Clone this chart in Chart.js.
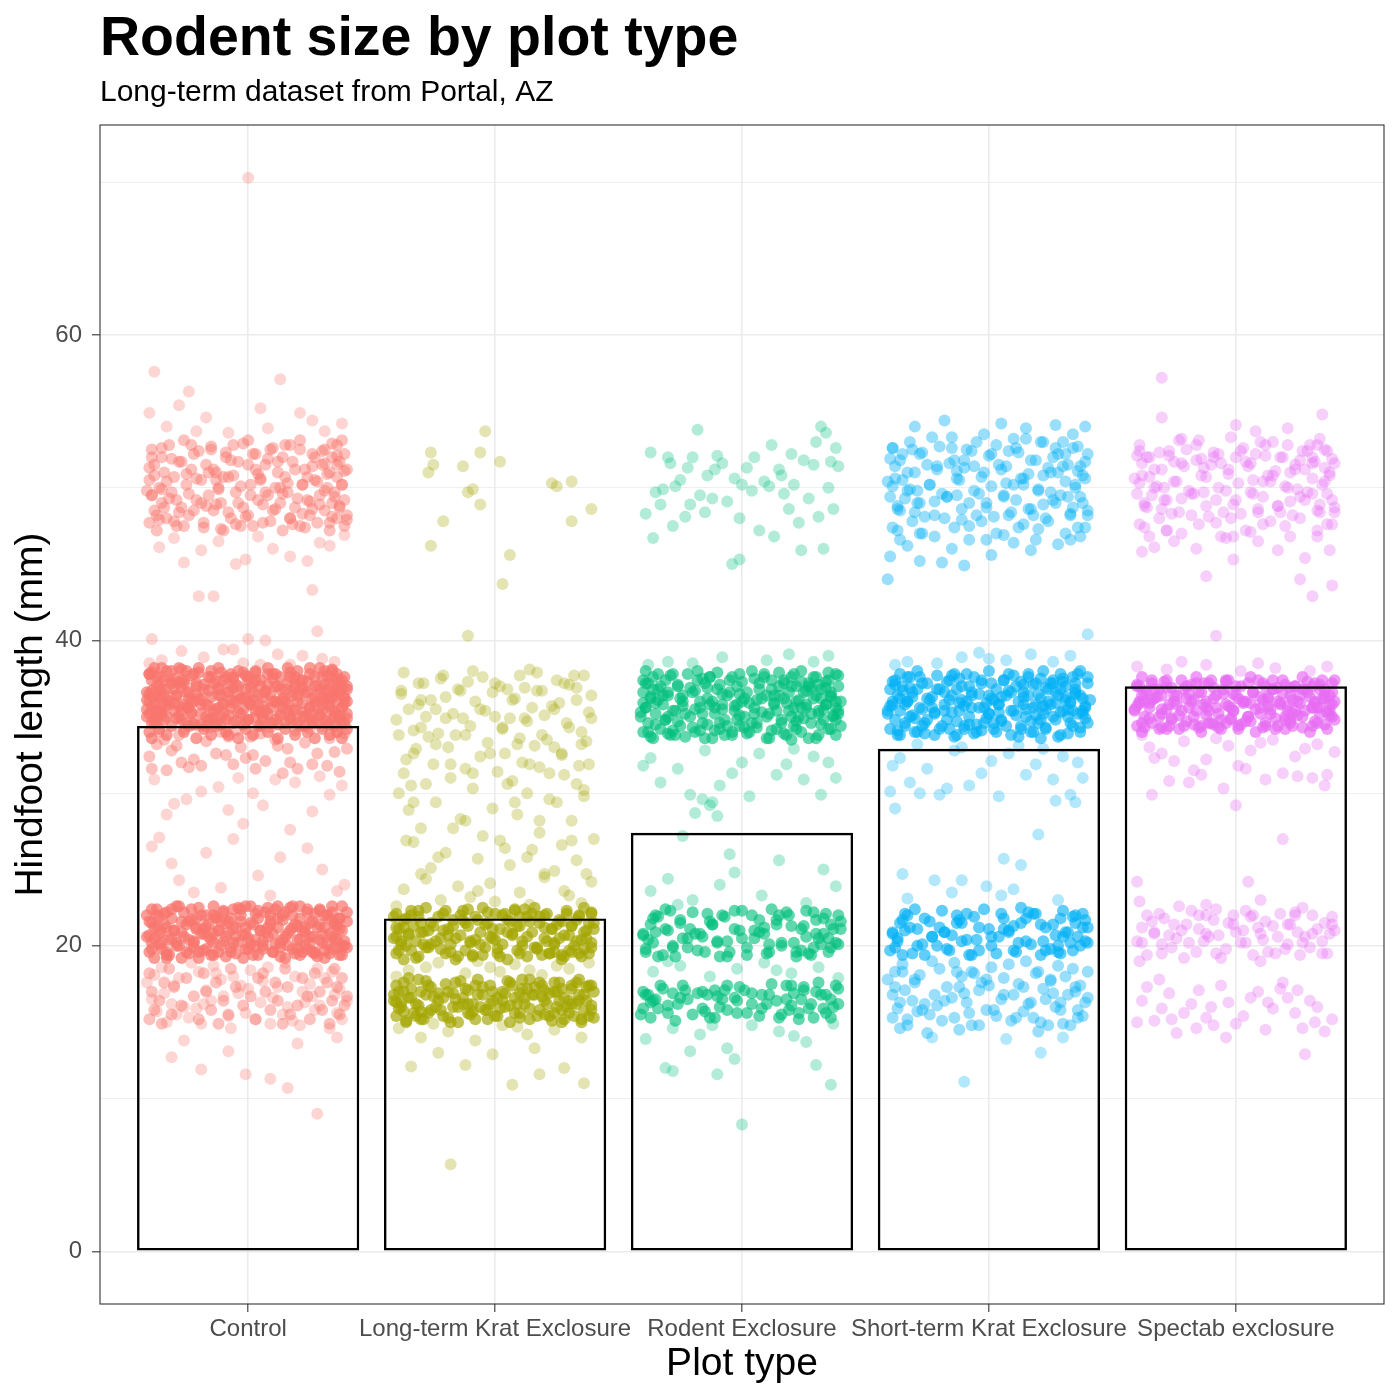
<!DOCTYPE html>
<html><head><meta charset="utf-8">
<script src="https://cdn.jsdelivr.net/npm/chart.js@4.4.1/dist/chart.umd.min.js"></script>
<style>html,body{margin:0;padding:0;background:#fff}canvas{display:block}</style>
</head><body>
<canvas id="c" width="1400" height="1400"></canvas>
<script>
const titleText = 'Rodent size by plot type';
const subtitleText = 'Long-term dataset from Portal, AZ';
const xTitle = 'Plot type';
const yTitle = 'Hindfoot length (mm)';
const categories = ['Control','Long-term Krat Exclosure','Rodent Exclosure','Short-term Krat Exclosure','Spectab exclosure'];
const barMeans = [34.4, 21.8, 27.4, 32.9, 37.0];
const yTicks = [0,10,20,30,40,50,60,70];

// jittered observations: [x offset in hundredths of a category, hindfoot length]
const ctrlDense = [[-40,35.2],[-12,36.8],[25,34.9],[3,37.4],[-33,36.1],[38,35.6],[-5,34.7],[17,37.9],[-26,35.8],[9,36.4],
[31,37.1],[-19,34.5],[-37,37.6],[22,35.3],[0,36.0],[-8,37.2],[35,36.6],[-29,34.9],[13,35.1],[-15,36.3],
[28,34.6],[-2,35.5],[40,37.0],[-23,37.7],[6,34.8],[-35,35.4],[19,36.9],[-10,35.9],[33,34.5],[-31,37.3],
[11,37.8],[-17,35.0],[26,36.2],[-39,36.7],[4,35.7],[37,34.8],[-21,36.5],[15,34.6],[-6,37.5],[30,35.8],
[-27,36.9],[8,35.2],[-14,34.9],[39,36.3],[-34,37.4],[20,36.0],[-1,34.7],[-24,35.6],[34,37.6],[-11,36.4],
[24,37.3],[-38,34.9],[2,36.6],[16,35.4],[-30,35.9],[36,35.1],[-7,36.1],[-20,37.9],[12,34.5],[29,36.8],
[-36,36.3],[5,37.0],[-16,35.7],[23,35.0],[-41,35.5],[32,37.7],[-4,35.3],[18,36.4],[-28,37.2],[10,37.5],
[-13,34.6],[27,35.9],[-33,35.0],[1,35.8],[38,36.9],[-25,36.6],[14,36.1],[-9,34.8],[21,37.4],[-32,36.0],
[7,36.7],[35,35.3],[-18,37.1],[-3,36.2],[26,34.7],[-22,34.5],[31,36.5],[-39,37.9],[16,37.2],[-12,35.6],
[3,35.0],[37,37.3],[-27,35.4],[9,34.6],[-6,36.9],[24,36.6],[-35,36.8],[19,35.5],[-15,37.6],[33,35.7],
[-1,37.7],[12,35.9],[-24,36.2],[40,34.9],[-10,35.2],[28,37.0],[-37,34.7],[6,36.3],[22,36.9],[-19,35.8],
[-30,37.5],[15,36.0],[34,36.2],[-8,35.1],[-40,36.5],[0,34.8],[30,35.4],[-16,36.7],[11,37.0],[-34,35.7],
[20,34.6],[-4,36.4],[36,37.5],[-23,35.2],[8,37.8],[-13,37.3],[25,35.6],[-38,35.9],[2,36.1],[17,35.0],
[39,35.9],[-29,36.4],[-11,34.5],[13,36.8],[32,34.7],[-21,37.2],[5,35.3],[-36,37.0],[27,36.3],[-2,37.9],
[-37,35.0],[-22,36.0],[-9,37.6],[7,35.4],[21,36.7],[34,38.1],[-31,38.0],[-17,34.4],[1,36.9],[16,38.2],
[29,35.1],[40,36.0],[-40,37.8],[-25,34.6],[-4,38.0],[10,36.0],[25,38.2],[38,34.6],[-34,36.4],[-13,35.5],
[4,34.4],[19,37.6],[32,36.2],[-28,35.7],[-6,35.9],[13,37.6],[36,36.9],[-19,36.1],[-1,36.3],[23,34.4],
[-39,34.6],[-26,37.4],[-11,37.9],[8,37.1],[27,37.6],[-35,38.2],[-15,34.9],[3,37.9],[18,34.8],[31,38.0],
[-23,35.3],[-8,36.6],[14,35.6],[35,35.0],[-30,36.8],[-2,34.5],[22,35.9],[39,37.6],[-20,38.2],[11,34.8],
[-36,35.5],[-12,36.9],[6,35.7],[26,35.3],[-27,38.1],[-5,37.1],[17,36.6],[33,36.3],[-41,36.1],[0,37.4],
[-38,20.5],[-11,21.6],[24,19.8],[4,22.3],[-32,19.4],[37,21.1],[-6,20.2],[18,22.0],[-25,21.4],[10,19.6],
[30,20.8],[-20,22.5],[-36,21.9],[21,20.4],[-1,21.2],[-9,19.3],[34,22.2],[-28,20.0],[14,21.7],[-16,20.6],
[27,19.5],[-3,22.4],[39,20.3],[-22,19.9],[7,20.9],[-34,22.1],[20,21.3],[-13,21.9],[32,20.1],[-30,21.0],
[12,22.6],[-18,19.7],[25,21.5],[-40,20.7],[2,19.4],[36,19.9],[-24,20.4],[16,20.0],[-7,21.8],[29,22.3],
[-27,19.2],[9,21.4],[-14,22.0],[40,21.6],[-35,20.9],[22,19.6],[0,20.5],[-21,21.1],[33,21.8],[-10,20.3],
[26,20.6],[-39,19.8],[5,21.0],[15,22.2],[-31,22.4],[35,20.5],[-5,19.5],[-19,20.8],[11,20.1],[28,19.3],
[-37,21.3],[3,22.1],[-15,19.4],[23,21.2],[-41,22.0],[31,19.7],[-2,20.7],[19,19.5],[-29,20.2],[8,22.5],
[-12,21.0],[38,20.0],[-23,21.7],[13,19.9],[-8,20.9],[24,22.4],[-33,19.6],[1,21.5],[34,20.6],[-26,22.2],
[17,21.0],[-4,22.5],[29,21.4],[-17,21.3],[6,20.3],[-36,20.1],[21,22.6],[-9,21.5],[38,19.4],[-20,19.6],
[10,20.8],[-27,21.6],[32,22.0],[-1,19.8],[14,20.4],[-33,21.2],[26,19.6],[-14,20.2],[36,21.3],[-6,21.1],
[-35,20.2],[-21,21.8],[-7,19.9],[9,22.0],[23,20.9],[37,21.8],[-29,22.6],[-14,20.8],[3,20.0],[18,21.2],
[31,21.2],[-39,21.5],[-24,19.5],[-3,21.6],[12,21.8],[27,22.1],[40,19.9],[-31,20.5],[-10,22.3],[6,19.8],
[20,19.8],[35,21.5],[-18,21.1],[-1,22.6],[15,20.6],[33,19.5],[-27,20.9],[-12,19.6],[1,20.1],[25,20.2],
[-37,22.4],[-17,22.0],[8,21.2],[29,20.4],[-5,20.6],[17,22.5],[38,22.6],[-22,20.3],[-33,19.2],[13,19.3]];
const ctrlMid = [[-39,49.5],[-14,51.2],[22,48.3],[5,50.6],[-30,47.8],[36,52.1],[-4,49.0],[15,52.8],[-25,50.9],[11,48.6],
[31,49.8],[-18,47.4],[-35,52.6],[26,51.4],[-1,48.1],[-9,52.3],[38,50.2],[-27,51.7],[18,47.6],[-12,49.9],
[29,48.9],[-6,50.8],[40,47.9],[-22,48.5],[8,51.9],[-33,50.4],[20,49.3],[-16,51.0],[34,52.9],[-37,48.2],
[13,50.0],[-20,52.4],[24,50.7],[-40,51.3],[2,47.5],[37,48.8],[-24,49.6],[16,50.3],[-8,48.4],[31,51.6],
[-29,49.2],[7,49.7],[-11,47.3],[39,51.1],[-34,48.7],[21,52.5],[0,51.5],[-23,52.8],[33,47.7],[-13,50.5],
[25,49.1],[-38,50.8],[3,52.2],[17,48.0],[-31,51.9],[35,49.4],[-5,47.6],[-19,49.0],[12,51.7],[28,50.4],
[-36,47.9],[6,48.9],[-15,52.7],[23,47.4],[-41,49.8],[32,50.9],[-3,50.1],[19,51.2],[-28,48.4],[10,52.6],
[-10,50.7],[27,52.0],[-32,49.3],[1,49.5],[36,51.5],[-26,47.5],[14,49.6],[-7,51.8],[22,50.2],[-21,50.6],
[9,47.8],[34,48.1],[-17,48.8],[-2,52.9],[26,48.6],[-39,52.0],[30,52.4],[-13,48.9],[4,50.9],[-35,49.9],
[-37,33.2],[-9,32.5],[19,34.1],[3,31.6],[-28,33.8],[35,32.7],[-15,34.3],[26,31.9],[-22,32.2],[11,33.5],
[39,33.9],[-3,33.0],[-33,31.5],[16,32.9],[-11,34.0],[30,34.4],[-40,32.4],[7,32.1],[23,33.3],[-19,31.8],
[-26,34.2],[1,33.7],[37,31.4],[-6,31.9],[14,31.3],[-31,32.8],[28,32.6],[-17,33.4],[9,34.3],[-36,34.0],
[33,33.6],[-1,32.3],[-24,31.7],[20,31.6],[-13,32.6],[40,32.9],[5,33.9],[-29,33.1],[25,34.2],[-8,33.7],
[17,32.0],[-39,31.6],[-20,34.4],[32,31.8],[2,32.5],[-34,33.5],[12,33.1],[-5,34.1],[36,34.0],[-27,32.0]];
const ctrlSparse = [[0,70.3],[-38,57.6],[-24,56.3],[13,57.1],[5,55.2],[-28,55.4],[-40,54.9],[-17,54.6],[21,54.9],[31,53.7],[-33,54.0],[8,53.9],[38,54.2],[-8,53.6],[26,54.4],[-21,53.7],
[-36,46.1],[-19,45.9],[-1,45.3],[17,45.5],[33,46.2],[-30,46.7],[10,46.0],[24,45.2],[-12,46.5],[39,46.9],[-26,45.1],[4,46.8],[29,46.4],[-5,45.0],
[-20,42.9],[-14,42.9],[26,43.3],[28,40.6],[-39,40.1],[0,40.1],[7,40.0],[-6,39.4],
[-35,38.7],[-18,38.9],[12,39.1],[-2,38.5],[22,39.0],[35,38.6],[-27,39.3],[5,38.4],[-10,39.4],[30,38.8],[-40,38.5],[17,38.4],
[-38,30.9],[-25,29.6],[-12,30.4],[6,29.2],[19,30.7],[33,29.9],[-33,28.6],[-4,31.0],[26,28.8],[-19,30.1],[11,30.9],[38,30.5],[-30,29.3],[2,30.0],[-8,28.9],[29,31.1],
[-39,26.5],[-36,27.1],[-31,25.4],[-17,26.1],[-6,27.0],[4,24.6],[13,25.8],[24,26.4],[36,23.6],[-11,23.8],[-28,24.3],[-22,23.5],[9,23.3],[30,25.0],[-2,28.0],[17,27.6],[39,24.0],
[-39,16.5],[-30,17.4],[-21,15.9],[-13,18.2],[-4,16.9],[6,17.7],[14,15.5],[23,16.3],[31,17.9],[38,15.2],
[-35,18.6],[-26,16.0],[-17,17.1],[-8,15.4],[1,18.4],[10,16.6],[19,18.0],[27,15.8],[35,16.8],[-41,17.6],
[-33,15.0],[-23,18.9],[-15,16.4],[-6,18.0],[3,15.2],[12,17.3],[21,14.8],[29,16.1],[37,17.2],[-37,15.7],
[-28,17.9],[-19,14.9],[-10,16.7],[-1,15.6],[8,18.6],[16,16.0],[25,17.5],[33,14.6],[40,16.4],[-31,16.2],
[-24,15.3],[-11,17.8],[-3,17.4],[18,15.1],[28,18.5],[-38,18.1],[-18,16.2],[5,16.3],[22,17.0],[34,18.3],
[-29,15.5],[-7,14.6],[15,18.9],[36,15.6],[-14,18.7],[9,14.9],[-34,16.9],[26,16.7],[-20,18.3],[0,17.2],
[-31,12.7],[-19,11.9],[-1,11.6],[9,11.3],[16,10.7],[28,9.0],[-8,13.1],[-26,13.8],[20,13.6],[36,14.0]];
// row form: [hindfoot length, x offsets (hundredths) of the animals measured at it]
const ctrlCoreRows = [[33.6,-39,-21,-4,12,27,38],[33.8,-33,-15,2,19,33,-8],[34.0,-40,-26,-9,8,24,36],[34.2,-36,-18,-1,15,30,40],
[34.4,-31,-13,5,21,35,-24],[34.6,-38,-22,-6,10,26,39],[34.8,-34,-16,0,17,31,-27],[35.0,-41,-28,-11,6,22,37],
[35.2,-35,-19,-3,13,29,40],[35.4,-30,-14,3,18,34,-37],[35.6,-39,-25,-7,9,25,38],[35.8,-32,-17,1,16,32,-10],
[36.0,-40,-23,-5,11,28,36],[36.2,-36,-20,-2,14,30,39],[36.4,-29,-12,4,20,35,-38],[36.6,-41,-24,-8,7,23,37],
[36.8,-33,-18,-1,15,31,40],[37.0,-37,-21,-4,12,27,34],[37.2,-31,-14,2,19,33,-26],[37.4,-39,-27,-10,5,22,38],
[37.6,-35,-16,0,17,30,-6],[37.8,-40,-22,-7,10,25,36],[38.0,-33,-15,3,20,34,-25],[38.2,-38,-12,8,29,-28],
[19.2,-38,-20,-2,15,31],[19.4,-33,-14,4,21,37],[19.6,-40,-25,-7,10,27],[19.8,-35,-17,0,18,34],
[20.0,-29,-11,6,23,39],[20.2,-39,-22,-4,13,30],[20.4,-32,-15,3,20,36],[20.6,-41,-26,-9,8,25],
[20.8,-36,-18,-1,16,33],[21.0,-30,-12,5,22,38],[21.2,-38,-21,-5,12,28],[21.4,-34,-16,2,19,35],
[21.6,-40,-24,-8,9,26],[21.8,-31,-13,4,21,37],[22.0,-37,-19,-3,14,31],[22.2,-33,-10,7,24,40],
[22.4,-39,-23,-6,11,29],[22.6,-28,-14,1,18,34]];
const ctrlMidRows = [[47.2,-37,-10,14,33],[47.5,-29,-3,21,39],[47.7,-40,-18,6,28],[48.0,-33,-7,17,36],[48.2,-24,0,25,40],
[48.5,-38,-14,10,31],[48.7,-27,-2,19,37],[49.0,-35,-11,13,34],[49.2,-21,4,24,39],[49.5,-39,-16,8,29],
[49.7,-31,-5,16,35],[50.0,-36,-12,11,32],[50.2,-25,1,22,38],[50.5,-40,-19,5,27],[50.7,-30,-8,15,36],
[51.0,-34,-13,12,33],[51.2,-23,3,23,40],[51.5,-38,-17,7,30],[51.7,-28,-4,18,37],[52.0,-35,-9,14,34],
[52.2,-22,2,26,39],[52.5,-39,-15,9,31],[52.8,-32,-6,17,36],[53.1,-26,0,21,38],
[14.9,-35,-12,14,33],[15.2,-40,-20,3,25],[15.5,-31,-8,17,37],[15.8,-38,-15,9,30],[16.1,-27,-2,20,39],
[16.4,-36,-10,12,34],[16.7,-22,1,24,40],[17.0,-39,-17,7,29],[17.3,-30,-5,16,36],[17.6,-34,-13,11,32],
[17.9,-25,4,22,38],[18.2,-40,-18,6,27],[18.5,-32,-7,15,35]];

const ltkDense = [[-38,20.3],[-12,21.5],[24,19.6],[4,22.1],[-32,19.2],[37,21.0],[-6,20.1],[18,21.9],[-25,21.3],[10,19.5],
[30,20.7],[-20,22.3],[-36,21.8],[21,20.3],[-1,21.1],[-9,19.4],[34,22.0],[-28,19.9],[14,21.6],[-16,20.5],
[27,19.4],[-3,22.2],[39,20.2],[-22,19.8],[7,20.8],[-34,22.0],[20,21.2],[-13,21.7],[32,20.0],[-30,20.9],
[12,22.4],[-18,19.6],[25,21.4],[-40,20.6],[2,19.3],[36,19.8],[-24,20.3],[16,19.9],[-7,21.7],[29,22.1],
[-27,21.0],[9,21.3],[-14,22.0],[40,21.5],[-35,20.8],[22,19.5],[0,20.4],[-21,21.0],[33,21.7],[-10,20.2],
[26,20.5],[-39,19.7],[5,20.9],[15,22.1],[-31,22.3],[35,20.4],[-5,19.4],[-19,20.7],[11,20.0],[28,19.3],
[-37,21.2],[3,22.0],[-15,19.3],[23,21.1],[-41,21.9],[31,19.6],[-2,20.6],[19,19.4],[-29,20.1],[8,22.4],
[-36,20.0],[-23,21.9],[-8,20.4],[6,21.6],[20,22.0],[34,19.5],[-30,21.5],[-17,21.3],[1,19.8],[13,20.6],
[27,21.6],[39,22.2],[-40,21.2],[-11,22.4],[17,19.8],[31,21.3],[-26,20.1],[-4,21.4],[10,21.9],[24,20.2],
[-38,16.3],[-11,17.1],[24,15.6],[4,16.9],[-32,15.4],[37,17.3],[-6,16.0],[18,17.6],[-25,16.7],[10,15.3],
[30,16.4],[-20,17.5],[-36,15.1],[21,16.2],[-1,17.0],[-9,15.7],[34,16.8],[-28,17.7],[14,15.9],[-16,16.5],
[27,17.2],[-3,15.2],[39,16.1],[-22,15.8],[7,17.4],[-34,16.6],[20,15.5],[-13,16.2],[32,15.4],[-30,17.0],
[12,16.6],[-18,15.0],[25,17.0],[-40,17.4],[2,15.9],[36,15.7],[-24,16.0],[16,17.3],[-7,16.8],[29,16.0],
[-27,15.6],[9,16.2],[-14,17.7],[40,15.3],[-35,17.9],[22,16.9],[0,15.4],[-21,16.6],[33,17.6],[-10,15.5],
[26,16.4],[-39,15.9],[5,17.7],[15,16.8],[-31,16.1],[35,15.0],[-5,17.3],[-19,15.3],[11,17.8],[28,15.2],
[-37,17.0],[3,16.4],[-15,16.0],[23,15.1],[-41,16.8],[31,17.4],[-2,16.2],[19,16.7],[-29,15.2],[8,15.6],
[-37,15.7],[-23,16.9],[-8,17.4],[6,16.1],[20,17.1],[34,16.4],[-30,15.7],[-17,16.9],[1,16.6],[13,17.2],
[27,15.8],[39,17.4],[-40,16.3],[-11,16.2],[17,15.4],[31,16.2],[-26,17.3],[-4,15.8],[10,16.9],[24,17.6]];
const ltkSparse = [[-26,52.3],[-25,51.5],[-13,51.4],[-6,52.3],[-4,53.7],[2,51.7],[-21,47.8],[-26,46.2],[-9,49.9],[-6,48.9],[6,45.6],[3,43.7],[23,50.3],[25,50.1],[31,50.4],[31,47.8],[39,48.6],[-27,51.0],[-11,49.7],[-11,40.3],
[-38,36.5],[-33,34.1],[-29,37.2],[-24,35.5],[-19,33.0],[-15,36.8],[-10,34.4],[-5,37.6],[0,35.0],[4,32.6],
[8,36.2],[13,34.7],[17,37.9],[21,33.5],[26,35.9],[30,37.1],[35,34.0],[39,36.4],[-36,32.2],[-31,35.8],
[-27,33.7],[-22,37.5],[-17,35.2],[-12,31.6],[-8,36.0],[-3,33.3],[2,37.0],[6,34.9],[11,32.0],[15,35.6],
[19,36.7],[24,33.0],[28,31.2],[33,36.9],[37,33.4],[-40,34.8],[-34,30.5],[-30,36.1],[-25,31.9],[-20,36.3],
[-16,33.8],[-11,37.3],[-6,32.4],[-1,36.6],[3,34.2],[7,30.8],[12,36.9],[16,33.1],[20,35.1],[25,37.4],
[29,34.6],[34,31.8],[38,35.3],[-37,37.9],[-32,32.9],[-28,35.0],[-23,33.9],[-18,31.0],[-13,34.9],[-9,38.0],
[-4,35.4],[1,31.4],[5,36.8],[10,33.6],[14,38.1],[18,31.7],[23,35.7],[27,32.5],[32,37.7],[36,30.2],
[-39,30.0],[-35,28.9],[-30,27.7],[-24,29.4],[-20,26.1],[-14,28.3],[-9,30.3],[-5,27.2],[-1,29.0],[4,26.4],
[9,28.6],[13,30.0],[18,27.4],[22,29.6],[27,26.6],[31,28.2],[36,29.8],[40,27.0],[-33,26.8],[-26,25.1],
[-17,27.7],[-7,25.7],[6,25.3],[15,26.3],[24,24.9],[33,25.6],[-37,23.7],[-28,24.4],[-15,23.9],[-2,24.1],
[10,23.5],[20,24.5],[30,23.3],[39,24.2],[-22,23.0],[0,22.9],[-40,22.6],[35,22.8],[-10,23.2],[14,22.7],
[-35,18.4],[-23,18.9],[-12,18.2],[-2,18.6],[8,18.8],[19,18.1],[30,18.5],[38,18.9],[-28,18.6],[14,18.4],[-7,19.0],[25,18.7],[-40,18.0],[2,18.3],
[-39,14.6],[-30,14.0],[-19,14.4],[-8,13.8],[3,14.8],[13,14.2],[24,14.5],[35,14.0],[-23,13.0],[-12,12.2],[-1,12.9],[16,13.3],[28,12.0],[-25,14.9],[9,14.7],
[-18,5.7],[7,10.9],[36,11.0],[18,11.6],[-34,12.1]];
const ltkDenseRows = [[19.1,-37,-16,5,27],[19.3,-31,-9,13,35],[19.5,-40,-20,1,22,38],[19.7,-34,-12,9,30],[19.9,-27,-4,17,39],
[20.1,-38,-18,3,24],[20.3,-32,-10,11,33],[20.5,-41,-22,-1,20,37],[20.7,-35,-14,7,28],[20.9,-29,-6,15,36],
[21.1,-39,-19,2,23,40],[21.3,-33,-11,10,31],[21.5,-26,-3,18,38],[21.7,-37,-17,5,26],[21.9,-31,-8,13,34],
[22.1,-40,-21,0,21,39],[22.3,-34,-13,8,29],[22.5,-28,-5,16,36],
[15.0,-36,-15,6,27],[15.2,-30,-8,14,35],[15.4,-40,-21,1,22,38],[15.6,-33,-11,10,30],[15.8,-26,-3,18,39],
[16.0,-38,-17,4,25],[16.2,-32,-9,12,33],[16.4,-41,-23,-1,20,37],[16.6,-35,-13,8,28],[16.8,-28,-5,16,36],
[17.0,-39,-19,3,24,40],[17.2,-34,-12,11,31],[17.4,-27,-2,19,38],[17.6,-37,-16,6,26],[17.8,-31,-7,14,34]];
const ltkSparseRows = [[30.6,-28,5,33],[31.3,-37,-9,22],[31.9,-18,14,38],[32.6,-33,-2,27],[33.2,-24,9,35],[33.8,-39,-12,19],
[34.3,-30,3,30],[34.9,-20,12,39],[35.5,-35,-6,24],[36.1,-26,7,33],[36.7,-38,-14,17],[37.2,-31,0,28],
[37.7,-21,10,36],[29.4,-33,8,25],[28.2,-12,18],[26.9,-36,2,31],[25.8,-23,13],[24.7,-30,20,37],[23.6,-7,28]];

const rodDense = [[-39,35.6],[-14,36.9],[22,34.2],[5,37.5],[-30,35.0],[36,36.3],[-4,34.0],[15,37.9],[-25,36.2],[11,33.6],
[31,35.4],[-18,37.4],[-35,34.5],[26,36.7],[-1,35.1],[-9,37.1],[38,34.8],[-27,33.8],[18,35.9],[-12,36.0],
[29,37.6],[-6,34.4],[40,36.0],[-22,37.8],[8,35.3],[-33,37.0],[20,33.5],[-16,35.2],[34,36.9],[-37,33.7],
[13,36.4],[-20,34.3],[24,37.3],[-40,37.4],[2,33.9],[37,35.1],[-24,35.7],[16,34.6],[-8,36.5],[31,33.8],
[-29,37.7],[7,36.8],[-11,34.1],[39,37.7],[-34,36.1],[21,35.6],[0,37.3],[-23,33.7],[33,35.5],[-13,35.8],
[25,34.9],[-38,34.0],[3,35.9],[17,37.2],[-31,34.8],[35,37.9],[-5,36.6],[-19,35.5],[12,37.4],[28,35.2],
[-36,36.8],[6,34.3],[-15,33.6],[23,36.1],[-41,35.3],[32,34.5],[-3,35.7],[19,36.6],[-28,35.4],[10,35.0],
[-10,37.9],[27,33.6],[-32,36.4],[1,36.2],[36,34.2],[-26,34.7],[14,35.4],[-7,33.8],[22,37.0],[-21,36.9],
[9,37.8],[34,37.3],[-17,36.0],[-2,34.8],[26,35.8],[-39,37.2],[30,36.4],[-13,37.6],[4,34.6],[-35,35.9],
[38,35.6],[-24,36.4],[17,33.9],[-8,35.5],[12,34.1],[-30,33.9],[28,36.9],[-1,36.5],[20,37.6],[-17,34.1],
[-37,36.3],[-23,35.2],[-9,34.6],[6,36.1],[20,35.0],[34,35.8],[-30,36.6],[-16,37.5],[1,34.3],[13,35.9],
[27,37.0],[39,35.2],[-40,35.9],[-11,35.6],[17,36.2],[31,37.1],[-26,37.1],[-4,37.6],[10,36.4],[24,35.6],
[-34,37.8],[-19,36.7],[-2,35.8],[15,37.0],[36,36.6],[-28,34.1],[5,35.2],[22,34.7],[-14,34.5],[32,36.2],
[-38,20.4],[-12,21.4],[24,19.7],[4,22.0],[-32,19.4],[37,21.1],[-6,20.3],[18,22.2],[-25,21.5],[10,19.5],
[30,20.8],[-20,22.2],[-36,21.8],[21,20.2],[-1,21.0],[-9,19.3],[34,22.1],[-28,20.0],[14,21.7],[-16,20.6],
[27,19.5],[-3,22.3],[39,20.1],[-22,19.9],[7,20.9],[-34,21.9],[20,21.3],[-13,21.6],[32,20.1],[-30,21.0],
[12,22.4],[-18,19.7],[25,21.3],[-40,20.7],[2,19.4],[36,19.9],[-24,20.5],[16,20.0],[-7,21.9],[29,22.2],
[-27,19.3],[9,21.2],[-14,22.1],[40,21.6],[-35,20.9],[22,19.6],[0,20.5],[-21,21.1],[33,21.8],[-10,20.3],
[26,20.6],[-39,19.8],[5,21.0],[15,22.0],[-31,22.4],[35,20.5],[-5,19.6],[-19,20.8],[11,20.1],[28,19.4],
[-38,16.8],[-11,17.1],[24,16.5],[4,16.9],[-32,17.2],[37,16.0],[-6,15.8],[18,17.4],[-25,16.6],[10,16.2],
[30,17.0],[-20,15.5],[-36,16.4],[21,16.9],[-1,17.3],[-9,16.0],[34,15.6],[-28,16.9],[14,16.4],[-16,17.0],
[27,15.9],[-3,16.6],[39,17.2],[-22,16.5],[7,15.4],[-34,15.9],[20,16.1],[-13,15.3],[32,16.8],[-30,16.1],
[12,17.5],[-18,16.9],[25,17.3],[-40,17.0],[2,15.6],[36,16.5],[-24,17.4],[16,15.5],[-7,17.1],[29,15.3],
[-37,16.3],[8,16.8],[-15,15.7],[23,15.2],[-41,15.5],[31,17.6],[-2,16.4],[19,15.8],[-27,15.1],[-10,16.7]];
const rodSparse = [[-37,52.3],[-36,46.7],[-18,53.8],[12,52.8],[30,53.0],[32,54.0],[34,53.6],[38,52.6],[-35,49.7],[-32,49.9],
[-29,51.6],[-27,50.1],[-25,50.5],[-22,51.3],[-21,48.9],[-20,52.0],[-17,49.5],[-15,48.4],[-12,49.3],[-10,52.1],
[-8,51.6],[-6,49.1],[-3,50.6],[-1,48.0],[2,51.3],[4,49.8],[7,47.2],[9,50.4],[11,50.1],[13,46.8],
[15,51.2],[17,49.6],[19,48.6],[21,50.2],[23,47.7],[25,51.8],[27,49.3],[29,51.5],[31,48.1],[33,46.0],
[35,50.0],[37,48.6],[39,51.4],[-39,48.3],[-33,48.9],[-28,47.5],[-23,48.1],[-14,50.8],[-4,45.0],[-1,45.3],
[5,52.0],[16,50.8],[24,45.9],[36,51.7],[-11,51.2],[0,50.2],[20,52.2],[-30,52.0],
[-30,38.6],[-8,38.9],[10,38.7],[29,38.6],[35,39.0],[-38,38.4],[19,39.1],[-20,38.5],
[-37,32.3],[-26,31.6],[-15,32.8],[-4,31.3],[7,32.6],[18,31.9],[29,32.4],[38,31.0],[-33,30.7],[-21,29.9],
[-9,30.5],[3,29.8],[14,31.2],[25,30.9],[35,32.0],[-40,31.8],[-12,29.4],[21,32.9],[0,32.0],[32,29.9],
[-16,29.6],[-13,29.2],[-10,28.5],[-19,28.7],[-24,27.2],
[-5,26.0],[15,25.6],[-3,24.8],[-9,24.0],[-37,23.6],[-30,24.4],[-20,23.0],[8,23.3],[26,22.8],[38,23.9],[-26,22.7],[33,25.0],
[-36,18.3],[-25,18.7],[-13,18.0],[-2,18.5],[9,18.9],[20,18.2],[31,18.6],[39,17.9],[-30,19.0],[14,18.4],
[-39,13.9],[-28,14.6],[-17,14.2],[-6,13.3],[4,14.8],[15,14.4],[26,13.7],[37,14.9],[-31,12.0],[-21,13.1],[-3,12.6],[21,14.1],[30,12.2],[-12,14.8],
[0,8.3],[36,10.9],[-28,11.8],[-10,11.6]];
const rodDenseRows = [[33.6,-36,-12,10,30],[33.8,-29,-4,18,38],[34.0,-40,-19,3,24],[34.2,-33,-9,14,35],[34.4,-25,-1,21,40],
[34.6,-38,-16,6,28],[34.8,-31,-7,16,33],[35.0,-41,-21,1,23,37],[35.2,-35,-11,11,31],[35.4,-27,-3,19,39],
[35.6,-39,-17,5,26],[35.8,-32,-8,13,34],[36.0,-24,0,22,38],[36.2,-37,-14,8,29],[36.4,-30,-6,15,36],
[36.6,-40,-20,2,25],[36.8,-34,-10,12,32],[37.0,-26,-2,20,39],[37.2,-38,-15,7,27],[37.4,-31,-5,17,35],
[37.6,-36,-13,9,30],[37.8,-28,-1,21,38],[38.0,-39,-18,4,24],
[19.3,-34,-6,22],[19.6,-39,-15,11,35],[19.9,-28,2,29],[20.2,-36,-10,16,38],[20.5,-22,5,31],
[20.8,-40,-17,9,33],[21.1,-31,-3,24,40],[21.4,-37,-12,14,36],[21.7,-25,7,30],[22.0,-35,-8,19,39],[22.3,-29,0,26],
[15.3,-37,-11,15,36],[15.6,-30,-2,23],[15.9,-40,-16,8,33],[16.2,-26,4,28,39],[16.5,-35,-8,18],
[16.8,-39,-14,11,34],[17.1,-23,1,25],[17.4,-33,-6,20,38]];

const stDense = [[-40,35.7],[-13,36.8],[23,34.3],[6,37.4],[-31,35.1],[37,36.4],[-3,34.1],[16,37.8],[-24,36.1],[12,33.7],
[32,35.5],[-17,37.3],[-34,34.6],[27,36.6],[0,35.2],[-8,37.0],[39,34.9],[-26,33.9],[19,35.8],[-11,36.1],
[30,37.5],[-5,34.5],[41,36.1],[-21,37.7],[9,35.4],[-32,36.9],[21,33.6],[-15,35.3],[35,36.8],[-36,33.8],
[14,36.3],[-19,34.4],[25,37.2],[-39,37.3],[3,34.0],[38,35.2],[-23,35.6],[17,34.7],[-7,36.4],[32,33.9],
[-28,37.6],[8,36.7],[-10,34.2],[40,37.6],[-33,36.0],[22,35.7],[1,37.2],[-22,33.8],[34,35.4],[-12,35.9],
[26,35.0],[-37,34.1],[4,35.8],[18,37.1],[-30,34.9],[36,37.8],[-4,36.5],[-18,35.4],[13,37.3],[29,35.3],
[-35,36.7],[7,34.4],[-14,33.7],[24,36.0],[-41,35.4],[33,34.6],[-2,35.6],[20,36.5],[-27,35.5],[11,35.1],
[-9,37.8],[28,33.7],[-31,36.3],[2,36.1],[37,34.3],[-25,34.8],[15,35.5],[-6,33.9],[23,36.9],[-20,36.8],
[10,37.7],[35,37.2],[-16,36.1],[-1,34.9],[27,35.9],[-38,37.1],[31,36.3],[-12,37.5],[5,34.7],[-34,35.8],
[39,35.7],[-23,36.3],[18,34.0],[-7,35.6],[13,34.2],[-29,34.0],[29,36.8],[0,36.4],[21,37.5],[-16,34.2],
[-36,36.2],[-22,35.3],[-8,34.5],[5,36.3],[19,35.1],[33,35.9],[-29,36.8],[-15,37.7],[2,34.6],[14,35.8],
[26,37.2],[38,35.4],[-39,36.0],[-10,35.7],[16,36.4],[30,37.3],[-25,37.2],[-3,37.4],[9,36.6],[23,35.5],
[-33,37.6],[-18,36.6],[-1,35.9],[14,37.1],[35,36.5],[-27,34.4],[4,35.3],[21,34.8],[-13,34.7],[31,36.1],
[-37,20.5],[-11,21.5],[25,19.8],[5,22.1],[-31,19.5],[38,21.2],[-5,20.4],[19,22.1],[-24,21.6],[11,19.6],
[31,20.9],[-19,22.3],[-35,21.7],[22,20.3],[0,21.1],[-8,19.4],[35,22.0],[-27,20.1],[15,21.8],[-15,20.7],
[28,19.6],[-2,22.4],[40,20.2],[-21,20.0],[8,21.0],[-33,22.0],[21,21.4],[-12,21.7],[33,20.2],[-29,21.1],
[13,22.5],[-17,19.8],[26,21.4],[-39,20.8],[3,19.5],[37,20.0],[-23,20.6],[17,20.1],[-6,21.9],[30,22.3],
[-26,19.4],[10,21.3],[-13,22.0],[39,21.7],[-34,21.0],[23,19.7],[1,20.6],[-20,21.2],[34,21.9],[-9,20.4],
[27,20.7],[-38,19.9],[6,21.1],[16,22.2],[-30,22.4],[36,20.6],[-4,19.7],[-18,20.9],[12,20.2],[29,19.5]];
const stMid = [[-39,50.1],[-14,51.8],[22,48.9],[5,51.2],[-30,48.4],[36,52.7],[-4,49.6],[15,53.2],[-25,51.5],[11,49.2],
[31,50.4],[-18,48.0],[-35,52.2],[26,52.0],[-1,48.7],[-9,52.5],[38,50.8],[-27,52.3],[18,48.2],[-12,50.5],
[29,49.5],[-6,51.4],[40,48.5],[-22,49.1],[8,52.4],[-33,51.0],[20,49.9],[-16,51.6],[34,53.5],[-37,48.8],
[13,50.6],[-20,52.7],[24,51.3],[-40,51.9],[2,48.1],[37,49.4],[-24,50.2],[16,50.9],[-8,49.0],[31,52.2],
[-29,49.8],[7,50.3],[-11,47.9],[39,51.7],[-34,49.3],[21,53.0],[0,52.1],[-23,53.3],[33,48.3],[-13,51.1],
[25,49.7],[-38,51.4],[3,52.8],[17,48.6],[-31,52.5],[35,50.0],[-5,48.2],[-19,49.6],[12,52.3],[28,51.0],
[-36,48.5],[6,49.5],[-15,53.3],[23,48.0],[-41,50.4],[32,51.5],[-3,50.7],[19,51.8],[-28,49.0],[10,53.2],
[-10,51.3],[27,52.6],[-32,49.9],[1,50.1],[36,51.1],[-26,48.1],[14,50.2],[-7,52.4],[22,50.8],[-21,51.2],
[9,48.4],[34,48.7],[-17,49.4],[-2,53.5],[26,49.2],[-39,52.6],[30,53.0],[-13,49.5],[4,51.5],[-35,50.5],
[-37,47.2],[-22,46.8],[-8,47.5],[6,46.9],[20,47.3],[33,46.6],[-28,47.0],[14,47.6],[-1,46.6],[39,47.4],
[-33,46.2],[-15,46.0],[1,45.6],[17,45.9],[28,46.3],[-40,45.5],[-19,45.1],[-28,45.2],[10,46.4],[37,46.8],
[-41,44.0],[-10,44.9],[-30,54.0],[5,54.2],[27,54.1],[39,54.0],[-18,54.4],[15,53.9],
[-39,16.8],[-30,17.6],[-21,16.1],[-13,18.3],[-4,17.1],[6,17.9],[14,15.7],[23,16.5],[31,18.0],[38,15.4],
[-35,18.8],[-26,16.2],[-17,17.3],[-8,15.6],[1,18.6],[10,16.8],[19,18.2],[27,16.0],[35,17.0],[-41,17.8],
[-33,15.2],[-23,19.0],[-15,16.6],[-6,18.2],[3,15.4],[12,17.5],[21,15.0],[29,16.3],[37,17.4],[-37,15.9],
[-28,18.1],[-19,15.1],[-10,16.9],[-1,15.8],[8,18.8],[16,16.2],[25,17.7],[33,14.8],[40,16.6],[-31,16.4],
[-24,15.5],[-11,18.0],[-3,17.6],[18,15.3],[28,18.7],[-38,18.3],[-18,16.4],[5,16.5],[22,17.2],[34,18.5],
[-29,15.7],[-7,14.8],[15,19.0],[36,15.8],[-14,18.9],[9,15.1],[-34,17.1],[26,16.9],[-20,18.5],[0,17.4],
[-36,14.6],[-12,14.5],[30,14.9],[20,14.4],[-25,14.3]];
const stSparse = [[-36,32.3],[-25,31.6],[-14,32.8],[-3,31.3],[8,32.6],[19,31.9],[30,32.4],[38,31.0],[-32,30.7],[-20,29.9],
[-8,30.5],[4,29.8],[15,31.2],[26,30.9],[36,32.0],[-39,31.8],[-11,33.0],[22,32.9],[1,32.1],[33,29.9],
[-29,33.2],[12,33.1],[-40,30.1],[-28,30.0],[35,29.4],[-17,30.3],[27,29.5],[-38,29.0],
[-33,38.6],[-11,38.9],[7,38.7],[26,38.6],[33,39.0],[-38,38.4],[17,39.1],[-21,38.5],[0,38.8],[-4,39.2],[40,40.4],
[6,25.7],[13,25.3],[-35,24.7],[-22,24.3],[-11,24.3],[20,27.3],[-33,23.1],[-15,23.5],[5,23.3],[28,23.0],[-1,23.9],[10,23.7],
[-10,11.1],[21,13.0],[7,13.9],[-23,14.0],[30,14.0]];
const stDenseRows = [[33.8,-37,-13,9,29],[34.0,-30,-5,17,37],[34.2,-40,-20,2,23],[34.4,-34,-10,13,34],[34.6,-26,-2,20,40],
[34.8,-38,-17,5,27],[35.0,-32,-8,15,32],[35.2,-41,-22,0,22,36],[35.4,-36,-12,10,30],[35.6,-28,-4,18,39],
[35.8,-39,-18,4,25],[36.0,-33,-9,12,33],[36.2,-25,1,21,38],[36.4,-37,-15,7,28],[36.6,-31,-7,14,35],
[36.8,-40,-21,3,24],[37.0,-35,-11,11,31],[37.2,-27,-3,19,40],[37.4,-38,-16,6,26],[37.6,-32,-6,16,34],
[37.8,-36,-14,8,29],[38.0,-29,0,22,37],
[19.4,-35,-7,21],[19.7,-40,-16,10,34],[20.0,-29,1,28],[20.3,-37,-11,15,39],[20.6,-23,4,30],
[20.9,-39,-18,8,32],[21.2,-32,-4,23,40],[21.5,-36,-13,13,35],[21.8,-26,6,29],[22.1,-34,-9,18,38]];
const stMidRows = [[46.6,-36,-8,19],[47.0,-27,3,31],[47.4,-39,-14,12,36],[47.8,-31,-3,24],[48.2,-22,8,33,40],
[48.6,-37,-11,16],[49.0,-29,-1,27,38],[49.4,-40,-17,6,32],[49.8,-33,-6,20],[50.2,-24,10,35],
[50.6,-38,-13,14,39],[51.0,-30,-2,25],[51.4,-21,7,30,37],[51.8,-36,-10,17],[52.2,-28,1,28,40],
[52.6,-39,-15,11,34],[53.0,-32,-5,22],
[14.8,-33,-4,24],[15.3,-39,-14,11,36],[15.8,-27,2,29],[16.3,-36,-9,17,39],[16.8,-22,6,32],
[17.3,-38,-12,14,35],[17.8,-30,-1,25],[18.3,-35,-7,20,40]];

const spDense = [[-39,35.9],[-14,36.6],[22,34.8],[5,37.2],[-30,35.5],[36,36.2],[-4,34.6],[15,37.4],[-25,36.0],[11,34.3],
[31,35.6],[-18,37.1],[-35,34.9],[26,36.4],[-1,35.4],[-9,36.9],[38,35.1],[-27,34.4],[18,35.9],[-12,36.0],
[29,37.3],[-6,34.8],[40,36.0],[-22,37.4],[8,35.5],[-33,36.8],[20,34.2],[-16,35.4],[34,36.8],[-37,34.3],
[13,36.3],[-20,34.7],[24,37.0],[-40,37.1],[2,34.5],[37,35.3],[-24,35.8],[16,34.9],[-8,36.4],[31,34.4],
[-29,37.3],[7,36.6],[-11,34.6],[39,37.2],[-34,36.1],[21,35.7],[0,37.0],[-23,34.2],[33,35.6],[-13,35.8],
[25,35.1],[-38,34.6],[3,35.9],[17,36.9],[-31,35.0],[35,37.4],[-5,36.5],[-19,35.6],[12,37.0],[28,35.4],
[-36,36.7],[6,34.7],[-15,34.3],[23,36.1],[-41,35.5],[32,34.7],[-3,35.7],[19,36.5],[-28,35.5],[10,35.2],
[-10,37.4],[27,34.3],[-32,36.3],[1,36.2],[36,34.5],[-26,34.9],[14,35.5],[-7,34.3],[22,36.9],[-21,36.8],
[9,37.4],[34,37.1],[-17,36.1],[-2,34.9],[26,35.9],[-39,37.0],[30,36.3],[-13,37.2],[4,34.7],[-35,35.9],
[38,35.8],[-24,36.4],[17,34.4],[-8,35.6],[12,34.4],[-30,34.3],[28,36.8],[-1,36.5],[20,37.1],[-17,34.5],
[-38,36.4],[-20,36.2],[4,36.0],[23,35.2],[39,36.6],[-12,35.1],[11,36.1],[-28,36.9],[32,35.9],[-4,37.3],
[-37,36.0],[-23,35.1],[-9,34.5],[6,35.9],[20,35.0],[34,35.6],[-30,36.4],[-16,37.2],[1,34.2],[13,35.7],
[27,36.8],[39,35.0],[-40,35.7],[-11,35.4],[17,36.0],[31,37.0],[-26,36.9],[-4,37.4],[10,36.3],[24,35.4],
[-34,37.4],[-19,36.5],[-2,35.6],[15,36.8],[36,36.4],[-28,34.2],[5,35.0],[22,34.6],[-14,34.4],[32,36.0]];
const spMid = [[-39,50.3],[-14,51.9],[22,49.1],[5,51.4],[-30,48.6],[36,52.5],[-4,49.8],[15,53.0],[-25,51.7],[11,49.4],
[31,50.6],[-18,48.2],[-35,52.0],[26,51.8],[-1,48.9],[-9,52.3],[38,51.0],[-27,52.1],[18,48.4],[-12,50.7],
[29,49.7],[-6,51.6],[40,48.7],[-22,49.3],[8,52.2],[-33,51.2],[20,50.1],[-16,51.8],[34,53.2],[-37,49.0],
[13,50.8],[-20,52.5],[24,51.5],[-40,52.1],[2,48.3],[37,49.6],[-24,50.4],[16,51.1],[-8,49.2],[31,52.0],
[-29,50.0],[7,50.5],[-11,48.1],[39,51.9],[-34,49.5],[21,52.8],[0,52.0],[-23,53.1],[33,48.5],[-13,51.3],
[25,49.9],[-38,51.6],[3,52.6],[17,48.8],[-31,52.3],[35,50.2],[-5,48.4],[-19,49.8],[12,52.1],[28,51.2],
[-36,48.7],[6,49.7],[-15,53.1],[23,48.2],[-41,50.6],[32,51.7],[-3,50.9],[19,52.0],[-28,49.2],[10,53.0],
[-10,51.5],[27,52.4],[-32,50.1],[1,50.3],[36,51.3],[-26,48.3],[14,50.4],[-7,52.2],[22,51.0],[-21,51.4],
[9,48.6],[34,48.9],[-17,49.6],[-2,53.3],[26,49.4],[-39,52.4],[30,52.8],[-13,49.7],[4,51.7],[-35,50.7],
[-37,47.4],[-22,47.0],[-8,47.7],[6,47.1],[20,47.5],[33,46.8],[-28,47.2],[14,47.8],[-1,46.8],[39,47.6],
[-38,45.8],[-16,46.0],[-4,46.7],[17,45.9],[28,45.4],[38,45.9],[-25,46.5],[-33,46.1],[9,46.5],
[-30,57.2],[-30,54.6],[0,54.1],[21,53.9],[35,54.8],[8,53.7],[-22,53.2],[-12,44.2],[-1,45.3],[26,44.0],[39,43.6],[31,42.9],
[-40,38.3],[-28,38.1],[-12,38.4],[2,38.0],[16,38.2],[30,38.0],[37,38.3],[-22,38.6],[-8,40.3],[9,38.5],
[-38,33.8],[-30,32.6],[-21,33.4],[-12,32.2],[-3,33.1],[6,32.8],[15,33.5],[24,32.4],[33,33.2],[40,32.7],
[-35,33.0],[-25,32.1],[-17,31.5],[-8,33.6],[1,31.8],[10,33.3],[19,31.3],[28,32.9],[37,31.2],[-33,32.3],
[-27,30.8],[-14,31.2],[-5,30.3],[4,31.6],[12,30.9],[25,31.1],[36,30.5],[-19,30.7],[-34,29.9],[31,31.0],
[0,29.2],[19,27.0],[-40,24.2],[5,24.2],
[-38,21.2],[-33,20.9],[-29,21.8],[-24,20.5],[-20,21.4],[-16,19.6],[-12,22.0],[-7,20.7],[-3,21.5],[2,20.2],
[6,21.9],[11,20.4],[15,21.3],[20,19.8],[24,22.2],[28,20.6],[33,21.1],[37,19.5],[40,21.0],[-36,19.4],
[-31,22.1],[-26,19.9],[-22,21.0],[-18,22.3],[-13,20.3],[-9,21.7],[-4,19.8],[0,20.9],[4,22.3],[9,21.2],
[13,19.6],[17,20.6],[22,21.4],[26,19.4],[31,22.0],[35,20.3],[39,21.9],[-40,20.3],[-27,20.7],[-15,21.1],
[-1,22.0],[7,19.4],[18,22.1],[30,19.9],[-34,21.6],[-21,19.2],[-8,22.4],[12,21.6],[25,20.9],[36,21.5],
[-39,19.0],[-23,22.6],[-6,19.2],[10,19.0],[27,22.5],[38,20.8],[-11,20.6],[21,20.1],[-30,20.1],[3,21.0],
[-39,22.9],[-12,22.7],[10,23.0],
[-38,16.4],[-33,15.1],[-27,16.9],[-21,15.6],[-15,17.1],[-9,14.8],[-3,16.3],[3,15.4],[9,17.0],[15,15.9],
[21,16.6],[27,14.6],[33,16.0],[39,15.2],[-36,17.3],[-30,15.9],[-24,14.3],[-18,16.2],[-12,15.3],[-6,17.4],
[0,14.9],[6,16.6],[12,14.5],[18,17.2],[24,15.6],[30,16.4],[36,14.4],[-40,15.0],[-10,16.0],[25,17.1],
[-26,15.2],[13,16.3],[-4,14.0],[32,15.0],[-16,14.6],[28,12.9],[-31,17.8],[19,17.6]];
const spDenseRows = [[34.0,-38,-14,8,30],[34.2,-31,-6,16,37],[34.4,-40,-21,1,23],[34.6,-34,-10,12,33],[34.8,-26,-2,20,40],
[35.0,-37,-17,5,27],[35.2,-30,-7,14,34],[35.4,-41,-22,-1,21,38],[35.6,-35,-12,10,31],[35.8,-27,-4,18,39],
[36.0,-39,-18,3,25],[36.2,-33,-9,13,35],[36.4,-25,0,22,38],[36.6,-37,-15,7,29],[36.8,-31,-5,15,36],
[37.0,-40,-20,2,24],[37.2,-34,-11,11,32],[37.4,-28,-3,19,40],[37.6,-38,-16,6,27]];
const spMidRows = [[46.8,-35,-6,22],[47.2,-28,4,33],[47.6,-39,-15,11,37],[48.0,-31,-2,26],[48.4,-23,9,34,40],
[48.8,-37,-12,17],[49.2,-29,0,28,39],[49.6,-40,-18,7,31],[50.0,-33,-7,21],[50.4,-25,11,36],
[50.8,-38,-14,15,38],[51.2,-30,-3,24],[51.6,-22,6,31,40],[52.0,-36,-9,18],[52.4,-27,2,29,37],
[52.8,-39,-16,12,33],
[19.5,-30,-8,16,35],[20.2,-38,-19,4,27],[20.8,-33,-12,10,31],[21.4,-25,-1,21,39],[22.0,-36,-15,7,24]];

function fromRows(rows){ return rows.flatMap(r => r.slice(1).map(d => [d, r[0]])); }

// style: colours per plot type and opacity per layer
const colors = ['#F8766D','#A3A500','#00BF7D','#00B0F6','#E76BF3'];
const layers = [
  [ctrlSparse,0,0.3],[ctrlMid,0,0.45],[fromRows(ctrlMidRows),0,0.45],[ctrlDense,0,0.72],[fromRows(ctrlCoreRows),0,0.72],
  [ltkSparse,1,0.3],[fromRows(ltkSparseRows),1,0.3],[ltkDense,1,0.68],[fromRows(ltkDenseRows),1,0.68],
  [rodSparse,2,0.3],[rodDense,2,0.62],[fromRows(rodDenseRows),2,0.62],
  [stSparse,3,0.3],[stMid,3,0.4],[fromRows(stMidRows),3,0.4],[stDense,3,0.62],[fromRows(stDenseRows),3,0.62],
  [spMid,4,0.32],[fromRows(spMidRows),4,0.32],[spDense,4,0.68],[fromRows(spDenseRows),4,0.68]
];
function rgba(hex,a){const n=parseInt(hex.slice(1),16);return `rgba(${n>>16},${(n>>8)&255},${n&255},${a})`;}

const datasets = layers.map(([arr,ci,a]) => ({
  type:'scatter',
  data: arr.map(p => ({x: ci + 1 + p[0]/100, y: p[1]})),
  backgroundColor: rgba(colors[ci], a),
  borderWidth: 0,
  pointRadius: 6,
  pointHoverRadius: 6,
  order: 1
}));
datasets.push({
  type:'bar',
  data: barMeans.map((v,i) => ({x: i+1, y: v})),
  backgroundColor:'rgba(0,0,0,0)',
  borderColor:'#000',
  borderWidth:2.4,
  borderSkipped:false,
  barPercentage:0.9,
  categoryPercentage:1,
  order:0
});

Chart.defaults.font.family = "'Liberation Sans', Arial, sans-serif";
const deco = {
  id:'deco',
  afterDraw(chart){
    const {ctx, chartArea:a} = chart;
    ctx.save();
    ctx.strokeStyle = '#333333';
    ctx.lineWidth = 1.1;
    ctx.strokeRect(a.left, a.top, a.right - a.left, a.bottom - a.top);
    ctx.fillStyle = '#000';
    ctx.textAlign = 'left';
    ctx.textBaseline = 'alphabetic';
    ctx.font = "bold 55.5px 'Liberation Sans', Arial, sans-serif";
    ctx.fillText(titleText, a.left, 55);
    ctx.font = "30px 'Liberation Sans', Arial, sans-serif";
    ctx.fillText(subtitleText, a.left, 101);
    ctx.restore();
  }
};

new Chart(document.getElementById('c'), {
  type:'bar',
  data:{datasets},
  options:{
    responsive:false,
    animation:false,
    devicePixelRatio:1,
    layout:{padding:{top:125,right:16,left:0,bottom:0}},
    plugins:{legend:{display:false},tooltip:{enabled:false}},
    scales:{
      x:{
        type:'linear', min:0.4, max:5.6, offset:false,
        afterBuildTicks(s){ s.ticks = categories.map((c,i)=>({value:i+1})); },
        afterFit(s){ s.height = 96; },
        ticks:{ callback:(v)=>categories[Math.round(v)-1] || '', color:'#4D4D4D', font:{size:24}, padding:3, maxRotation:0, minRotation:0, autoSkip:false },
        grid:{ offset:false, color:'#EBEBEB', lineWidth:1.6, tickColor:'#333333', tickLength:8, tickWidth:1.1 },
        border:{display:false},
        title:{ display:true, text:xTitle, color:'#000', font:{size:39}, padding:{top:0,bottom:12} }
      },
      y:{
        type:'linear', min:-3.45, max:73.75,
        afterBuildTicks(s){ s.ticks = yTicks.map(v=>({value:v})); },
        afterFit(s){ s.width = 100; },
        ticks:{ callback:(v)=> (v % 20 === 0 ? String(v) : ''), color:'#4D4D4D', font:{size:24}, padding:10 },
        grid:{
          color:'#EBEBEB',
          lineWidth:(c)=> (c.tick && c.tick.value % 20 === 0 ? 1.6 : 0.8),
          tickColor:(c)=> (c.tick && c.tick.value % 20 === 0 ? '#333333' : 'rgba(0,0,0,0)'),
          tickLength:8, tickWidth:1.1
        },
        border:{display:false},
        title:{ display:true, text:yTitle, color:'#000', font:{size:39}, padding:{top:8,bottom:0} }
      }
    }
  },
  plugins:[deco]
});
</script>
</body></html>
